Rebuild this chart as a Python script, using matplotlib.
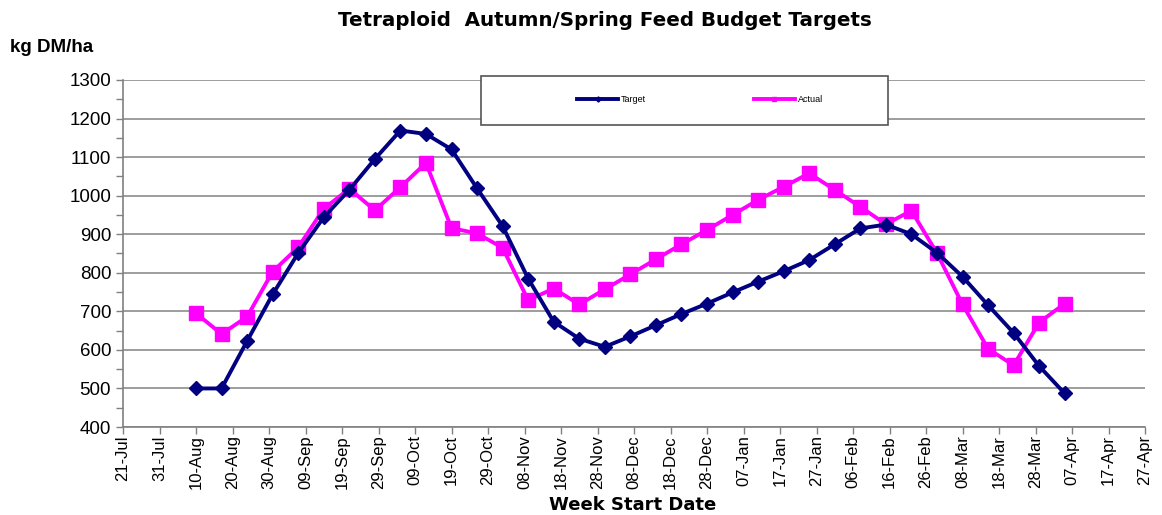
import matplotlib
matplotlib.use("Agg")
import matplotlib.pyplot as plt
from matplotlib.patches import Rectangle
from matplotlib.ticker import MultipleLocator
import pandas as pd

plt.rcParams['font.family'] = ['Liberation Sans', 'DejaVu Sans']

week_start = ["2006-08-10", "2006-08-17", "2006-08-24", "2006-08-31", "2006-09-07",
              "2006-09-14", "2006-09-21", "2006-09-28", "2006-10-05", "2006-10-12",
              "2006-10-19", "2006-10-26", "2006-11-02", "2006-11-09", "2006-11-16",
              "2006-11-23", "2006-11-30", "2006-12-07", "2006-12-14", "2006-12-21",
              "2006-12-28", "2007-01-04", "2007-01-11", "2007-01-18", "2007-01-25",
              "2007-02-01", "2007-02-08", "2007-02-15", "2007-02-22", "2007-03-01",
              "2007-03-08", "2007-03-15", "2007-03-22", "2007-03-29", "2007-04-05"]

target = [500, 500, 623, 744, 851, 944, 1015, 1095, 1169, 1160,
          1120, 1019, 921, 785, 673, 629, 608, 635, 664, 693,
          720, 749, 777, 804, 833, 874, 915, 925, 900, 852,
          790, 716, 644, 558, 487]

actual = [695, 641, 686, 803, 866, 966, 1018, 962, 1022, 1085,
          916, 902, 865, 729, 759, 718, 757, 796, 835, 874,
          911, 950, 989, 1023, 1058, 1015, 971, 926, 961, 851,
          718, 603, 560, 671, 720]

tick_dates = ["2006-07-21", "2006-07-31", "2006-08-10", "2006-08-20", "2006-08-30",
              "2006-09-09", "2006-09-19", "2006-09-29", "2006-10-09", "2006-10-19",
              "2006-10-29", "2006-11-08", "2006-11-18", "2006-11-28", "2006-12-08",
              "2006-12-18", "2006-12-28", "2007-01-07", "2007-01-17", "2007-01-27",
              "2007-02-06", "2007-02-16", "2007-02-26", "2007-03-08", "2007-03-18",
              "2007-03-28", "2007-04-07", "2007-04-17", "2007-04-27"]

x = pd.to_datetime(week_start)
ticks = pd.to_datetime(tick_dates)

fig = plt.figure(figsize=(11.62, 5.15), dpi=100)
ax = fig.add_axes([123/1162, 1-427/515, (1145-123)/1162, (427-80)/515])

ax.plot(x, target, color='#000080', lw=2.8, marker='D', ms=7.5, label='Target', zorder=4)
ax.plot(x, actual, color='#FF00FF', lw=2.8, marker='s', ms=10, label='Actual', zorder=3)

ax.set_ylim(400, 1300)
ax.set_xlim(ticks[0], ticks[-1])
ax.yaxis.set_major_locator(MultipleLocator(100))
ax.yaxis.set_minor_locator(MultipleLocator(50))
ax.set_xticks(ticks)
ax.set_xticklabels([t.strftime('%d-%b') for t in ticks], rotation=90, fontsize=12)
ax.tick_params(axis='y', labelsize=13.5, color='#808080', length=5, width=1)
ax.tick_params(axis='y', which='minor', color='#808080', length=5, width=1)
ax.tick_params(axis='x', color='#808080', length=5, width=1, pad=1)
ax.grid(axis='y', which='major', color='#8c8c8c', lw=1.2)
ax.set_axisbelow(True)
for s in ['top', 'right']:
    ax.spines[s].set_visible(False)
for s in ['left', 'bottom']:
    ax.spines[s].set_color('#808080')
    ax.spines[s].set_linewidth(1.2)

fig.text(633/1162, 1-505/515, 'Week Start Date', ha='center', va='center',
         fontsize=13, fontweight='bold', family=['DejaVu Sans'])
fig.text(605/1162, 1-20/515, 'Tetraploid  Autumn/Spring Feed Budget Targets',
         ha='center', va='center', fontsize=14.3, fontweight='bold', family=['DejaVu Sans'])
fig.text(10/1162, 1-47/515, 'kg DM/ha', ha='left', va='center', fontsize=13.5, fontweight='bold')

rect = Rectangle((481/1162, 1-125/515), (888-481)/1162, (125-76)/515,
                 transform=fig.transFigure, facecolor='white', edgecolor='#555555', lw=1.2, zorder=5)
fig.patches.append(rect)
leg = fig.legend(loc='center', bbox_to_anchor=(700/1162, 1-100/515), ncol=2, frameon=False,
                 fontsize=6.5, markerscale=0.35, columnspacing=12, handlelength=4.5, handletextpad=0.3)
leg.set_zorder(6)

fig.savefig('out.png', dpi=100)
